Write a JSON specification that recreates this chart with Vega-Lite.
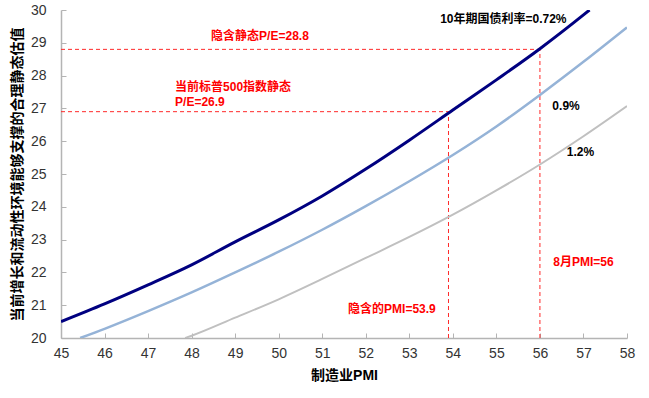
{
  "$schema": "https://vega.github.io/schema/vega-lite/v6.json",
  "width": 566,
  "height": 328,
  "autosize": {"type": "none"},
  "padding": {"left": 61, "top": 10, "right": 22, "bottom": 60},
  "background": "white",
  "config": {
    "view": {"stroke": null},
    "axis": {
      "grid": false,
      "domainColor": "#b4b4b4",
      "domainWidth": 1.5,
      "tickColor": "#b4b4b4",
      "tickWidth": 1,
      "tickSize": -5,
      "labelFont": "Liberation Sans",
      "labelFontSize": 14,
      "labelColor": "#333333",
      "labelOverlap": false,
      "labelFlush": false,
      "titleFont": "'Liberation Sans', 'Noto Sans CJK SC'",
      "titleFontSize": 14,
      "titleFontWeight": "bold",
      "titleColor": "#000000"
    }
  },
  "datasets": {
    "curves": [
      {"pmi": 45, "pe": 20.5, "s": "0.72%"},
      {"pmi": 46, "pe": 21.04, "s": "0.72%"},
      {"pmi": 47, "pe": 21.62, "s": "0.72%"},
      {"pmi": 48, "pe": 22.23, "s": "0.72%"},
      {"pmi": 49, "pe": 22.93, "s": "0.72%"},
      {"pmi": 50, "pe": 23.6, "s": "0.72%"},
      {"pmi": 51, "pe": 24.33, "s": "0.72%"},
      {"pmi": 52, "pe": 25.15, "s": "0.72%"},
      {"pmi": 53, "pe": 26.03, "s": "0.72%"},
      {"pmi": 54, "pe": 26.95, "s": "0.72%"},
      {"pmi": 55, "pe": 27.87, "s": "0.72%"},
      {"pmi": 56, "pe": 28.82, "s": "0.72%"},
      {"pmi": 57, "pe": 29.85, "s": "0.72%"},
      {"pmi": 57.14, "pe": 30, "s": "0.72%"},
      {"pmi": 45.44, "pe": 20, "s": "0.9%"},
      {"pmi": 46, "pe": 20.28, "s": "0.9%"},
      {"pmi": 47, "pe": 20.82, "s": "0.9%"},
      {"pmi": 48, "pe": 21.39, "s": "0.9%"},
      {"pmi": 49, "pe": 22.0, "s": "0.9%"},
      {"pmi": 50, "pe": 22.63, "s": "0.9%"},
      {"pmi": 51, "pe": 23.3, "s": "0.9%"},
      {"pmi": 52, "pe": 24.02, "s": "0.9%"},
      {"pmi": 53, "pe": 24.78, "s": "0.9%"},
      {"pmi": 54, "pe": 25.58, "s": "0.9%"},
      {"pmi": 55, "pe": 26.45, "s": "0.9%"},
      {"pmi": 56, "pe": 27.41, "s": "0.9%"},
      {"pmi": 57, "pe": 28.42, "s": "0.9%"},
      {"pmi": 58, "pe": 29.47, "s": "0.9%"},
      {"pmi": 47.85, "pe": 20, "s": "1.2%"},
      {"pmi": 48, "pe": 20.07, "s": "1.2%"},
      {"pmi": 49, "pe": 20.62, "s": "1.2%"},
      {"pmi": 50, "pe": 21.18, "s": "1.2%"},
      {"pmi": 51, "pe": 21.8, "s": "1.2%"},
      {"pmi": 52, "pe": 22.44, "s": "1.2%"},
      {"pmi": 53, "pe": 23.08, "s": "1.2%"},
      {"pmi": 54, "pe": 23.76, "s": "1.2%"},
      {"pmi": 55, "pe": 24.5, "s": "1.2%"},
      {"pmi": 56, "pe": 25.29, "s": "1.2%"},
      {"pmi": 57, "pe": 26.15, "s": "1.2%"},
      {"pmi": 58, "pe": 27.07, "s": "1.2%"}
    ],
    "refs": [
      {"x": 45, "x2": 56, "y": 28.8, "y2": 28.8},
      {"x": 45, "x2": 53.9, "y": 26.9, "y2": 26.9},
      {"x": 53.9, "x2": 53.9, "y": 20, "y2": 26.9},
      {"x": 56, "x2": 56, "y": 20, "y2": 28.8}
    ],
    "redCenter": [
      {"x": 49.57, "y": 29.2, "t": "隐含静态P/E=28.8"},
      {"x": 57.0, "y": 22.33, "t": "8月PMI=56"},
      {"x": 52.6, "y": 20.89, "t": "隐含的PMI=53.9"}
    ],
    "redLeft": [
      {"x": 47.62, "y": 27.65, "t": "当前标普500指数静态"},
      {"x": 47.62, "y": 27.19, "t": "P/E=26.9"}
    ],
    "blackCenter": [
      {"x": 55.16, "y": 29.72, "t": "10年期国债利率=0.72%"},
      {"x": 56.6, "y": 27.06, "t": "0.9%"},
      {"x": 56.93, "y": 25.66, "t": "1.2%"}
    ]
  },
  "encoding": {
    "x": {"type": "quantitative", "scale": {"domain": [45, 58], "nice": false, "zero": false},
          "axis": {"values": [45,46,47,48,49,50,51,52,53,54,55,56,57,58], "tickCount": 14, "title": "制造业PMI", "labelPadding": 13, "titlePadding": 8, "labelOverlap": false}},
    "y": {"type": "quantitative", "scale": {"domain": [20, 30], "nice": false, "zero": false},
          "axis": {"values": [20,21,22,23,24,25,26,27,28,29,30], "tickCount": 11, "title": "当前增长和流动性环境能够支撑的合理静态估值", "labelPadding": 20, "titlePadding": 6, "labelOverlap": false}}
  },
  "layer": [
    {
      "data": {"name": "refs"},
      "mark": {"type": "rule", "color": "#ff2a2a", "strokeDash": [4, 3], "strokeWidth": 1},
      "encoding": {
        "x": {"field": "x"},
        "x2": {"field": "x2"},
        "y": {"field": "y"},
        "y2": {"field": "y2"}
      }
    },
    {
      "data": {"name": "curves"},
      "mark": {"type": "line", "interpolate": "monotone", "clip": true},
      "encoding": {
        "x": {"field": "pmi"},
        "y": {"field": "pe"},
        "color": {"field": "s", "type": "nominal", "scale": {"domain": ["0.72%", "0.9%", "1.2%"], "range": ["#000080", "#95b3d7", "#c0c0c0"]}, "legend": null},
        "strokeWidth": {"field": "s", "type": "nominal", "scale": {"domain": ["0.72%", "0.9%", "1.2%"], "range": [3, 2, 2]}, "legend": null}
      }
    },
    {
      "data": {"name": "redCenter"},
      "mark": {"type": "text", "color": "#ff0000", "font": "'Liberation Sans', 'Noto Sans CJK SC'", "fontWeight": "bold", "fontSize": 12, "align": "center", "baseline": "middle"},
      "encoding": {
        "x": {"field": "x"},
        "y": {"field": "y"},
        "text": {"field": "t"}
      }
    },
    {
      "data": {"name": "redLeft"},
      "mark": {"type": "text", "color": "#ff0000", "font": "'Liberation Sans', 'Noto Sans CJK SC'", "fontWeight": "bold", "fontSize": 12, "align": "left", "baseline": "middle"},
      "encoding": {
        "x": {"field": "x"},
        "y": {"field": "y"},
        "text": {"field": "t"}
      }
    },
    {
      "data": {"name": "blackCenter"},
      "mark": {"type": "text", "color": "#000000", "font": "'Liberation Sans', 'Noto Sans CJK SC'", "fontWeight": "bold", "fontSize": 12, "align": "center", "baseline": "middle"},
      "encoding": {
        "x": {"field": "x"},
        "y": {"field": "y"},
        "text": {"field": "t"}
      }
    }
  ]
}
